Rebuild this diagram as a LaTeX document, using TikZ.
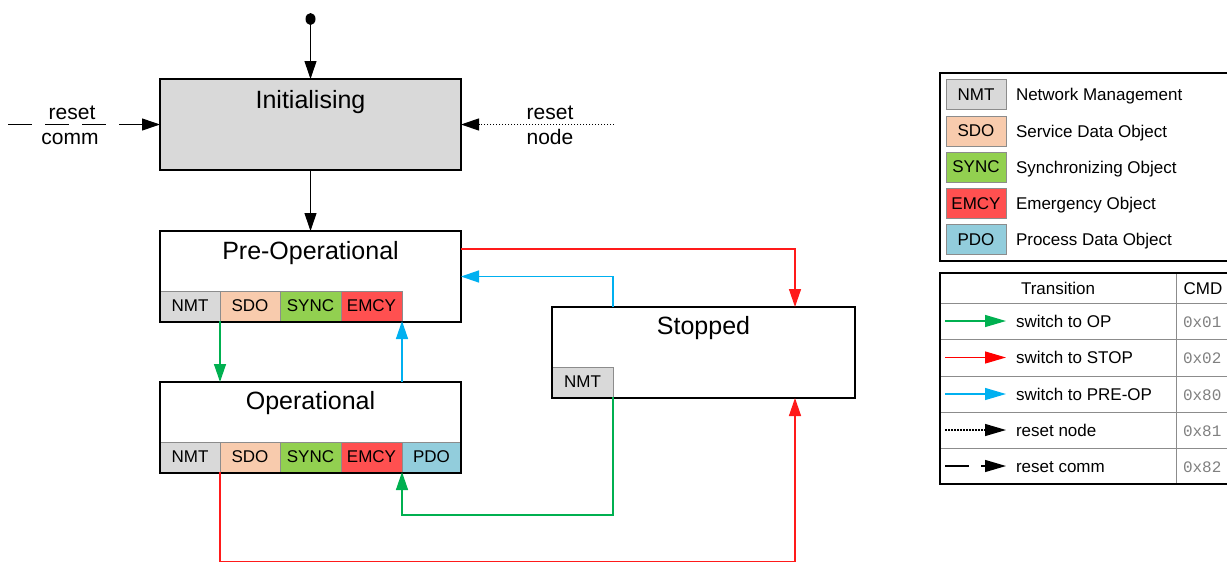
\documentclass[tikz,border=0pt]{standalone}
\usepackage{fontspec}
\setmainfont{Liberation Sans}
\setmonofont{Liberation Mono}
\usetikzlibrary{arrows.meta,calc,shapes.geometric}
\definecolor{nmtc}{HTML}{D9D9D9}
\definecolor{sdoc}{HTML}{F8CBAD}
\definecolor{syncc}{HTML}{92D050}
\definecolor{emcyc}{HTML}{FF5050}
\definecolor{pdoc}{HTML}{92CDDC}
\definecolor{agreen}{HTML}{00B050}
\definecolor{ared}{HTML}{FF1A1A}
\definecolor{ablue}{HTML}{00B0F0}
\definecolor{cmdgray}{HTML}{808080}
\begin{document}
\begin{tikzpicture}[x=1pt,y=-1pt,
  every node/.style={inner sep=0pt, outer sep=0pt},
  state/.style={draw=black, line width=2.5pt, minimum width=301pt, minimum height=91pt, anchor=north west},
  titletext/.style={font=\fontsize{25}{30}\selectfont, anchor=base},
  cell/.style={draw=black!45, line width=0.8pt, minimum height=30pt, anchor=north west, font=\fontsize{17}{20}\selectfont},
  lcell/.style={draw=black!45, line width=0.8pt, minimum height=30pt, minimum width=60pt, anchor=center, font=\fontsize{17}{20}\selectfont},
  lbltext/.style={font=\fontsize{21}{24}\selectfont, anchor=base},
  legtext/.style={font=\fontsize{17}{20}\selectfont, anchor=base west},
  cmdtext/.style={font=\fontsize{16}{20}\ttfamily, text=cmdgray, anchor=base west},
  arrowhd/.style={-{Triangle[length=18pt,width=12pt]}},
  blk/.style={arrowhd, draw=black, line width=1pt},
  dotline/.style={dash pattern=on 1.5pt off 1.5pt, line width=1.2pt},
  gconn/.style={arrowhd, draw=agreen, line width=1.4pt},
  rconn/.style={arrowhd, draw=ared, line width=1.4pt},
  bconn/.style={arrowhd, draw=ablue, line width=1.4pt},
  legarrow/.style={-{Triangle[length=21pt,width=12pt]}, line width=1.3pt},
  rowline/.style={draw=black!45, line width=0.8pt}
]
\path[use as bounding box] (0,0) rectangle (1227,563);
\clip (0,0) rectangle (1227,563);

% ---- cells ----
\node[cell, fill=nmtc,  minimum width=60pt] (pnmt)  at (160,291) {NMT};
\node[cell, fill=sdoc,  minimum width=60pt] (psdo)  at (220,291) {SDO};
\node[cell, fill=syncc, minimum width=61pt] (psync) at (280,291) {SYNC};
\node[cell, fill=emcyc, minimum width=61pt] (pemcy) at (341,291) {EMCY};

\node[cell, fill=nmtc,  minimum width=60pt] (onmt)  at (160,442) {NMT};
\node[cell, fill=sdoc,  minimum width=60pt] (osdo)  at (220,442) {SDO};
\node[cell, fill=syncc, minimum width=61pt] (osync) at (280,442) {SYNC};
\node[cell, fill=emcyc, minimum width=61pt] (oemcy) at (341,442) {EMCY};
\node[cell, fill=pdoc,  minimum width=59pt] (opdo)  at (402,442) {PDO};

\node[cell, fill=nmtc,  minimum width=61pt] (snmt)  at (552,367) {NMT};

% ---- state boxes ----
\node[state, fill=nmtc] (init) at (160,79) {};
\node[state] (preop) at (160,231) {};
\node[state] (op) at (160,382) {};
\node[state, minimum width=303pt] (stopped) at (552,307) {};

\node[titletext] (tinit) at ($(init.north)+(0,29)$) {Initialising};
\node[titletext] (tpreop) at ($(preop.north)+(0,28)$) {Pre-Operational};
\node[titletext] (top) at ($(op.north)+(0,27)$) {Operational};
\node[titletext] (tstop) at ($(stopped.north)+(0,27)$) {Stopped};

% ---- start ----
\node[ellipse, fill=black, minimum width=10pt, minimum height=12pt] (start) at (310.5,19) {};
\draw[blk] (start) -- (init.north);
\draw[blk] (init.south) -- (preop.north);

% ---- transitions ----
\draw[gconn] (psdo.south west) -- (psdo.south west |- op.north);
\draw[bconn] (pemcy.south east |- op.north) -- (pemcy.south east);
\draw[rconn] ($(preop.north east)+(0,18)$) -| ($(stopped.north west)+(243,0)$);
\draw[bconn] (snmt.east |- stopped.north) |- (preop.east);
\draw[gconn] (snmt.south east) -- ++(0,118) -| (oemcy.south east);
\draw[rconn] (osdo.south west) -- ++(0,89.5) -| ($(stopped.south west)+(243,0)$);

% ---- resets ----
\coordinate (rc) at (8,124.5);
\draw[blk, dash pattern=on 24pt off 13pt] (rc) -- (init.west);
\node[lbltext] (rcl1) at (72,119) {reset};
\node[lbltext] (rcl2) at (70,144) {comm};
\coordinate (rn) at (614,124.5);
\draw[blk, dotline] (rn) -- (init.east);
\node[lbltext] (rnl1) at (550,119) {reset};
\node[lbltext] (rnl2) at (550,144) {node};

% ---- legend 1 ----
\draw[line width=1.8pt] (940,73) rectangle (1240,261);
\node[lcell, fill=nmtc]  (lnmt)  at (976,94.5) {NMT};
\node[lcell, fill=sdoc]  (lsdo)  at (976,131) {SDO};
\node[lcell, fill=syncc] (lsync) at (976,167) {SYNC};
\node[lcell, fill=emcyc] (lemcy) at (976,203.5) {EMCY};
\node[lcell, fill=pdoc]  (lpdo)  at (976,239.5) {PDO};
\node[legtext] at (1016,100.5) {Network Management};
\node[legtext] at (1016,137) {Service Data Object};
\node[legtext] at (1016,173) {Synchronizing Object};
\node[legtext] at (1016,209.5) {Emergency Object};
\node[legtext] at (1016,245.5) {Process Data Object};

% ---- legend 2 ----
\draw[rowline] (940,303) -- (1240,303);
\draw[rowline] (940,339) -- (1240,339);
\draw[rowline] (940,376) -- (1240,376);
\draw[rowline] (940,412) -- (1240,412);
\draw[rowline] (940,448) -- (1240,448);
\draw[rowline] (1176,273) -- (1176,484);
\draw[line width=1.8pt] (940,273) rectangle (1240,484);
\node[font=\fontsize{17}{20}\selectfont, anchor=base] at (1058,294) {Transition};
\node[font=\fontsize{17}{20}\selectfont, anchor=base] at (1203,294) {CMD};

\coordinate (a1s) at (945,321); \coordinate (a1e) at (1006,321);
\coordinate (a2s) at (945,357.5); \coordinate (a2e) at (1006,357.5);
\coordinate (a3s) at (945,394); \coordinate (a3e) at (1006,394);
\coordinate (a4s) at (945,430); \coordinate (a4e) at (1006,430);
\coordinate (a5s) at (945,466); \coordinate (a5e) at (1006,466);
\draw[legarrow, draw=agreen, fill=agreen] (a1s) -- (a1e);
\draw[legarrow, draw=red, fill=red] (a2s) -- (a2e);
\draw[legarrow, draw=ablue, fill=ablue] (a3s) -- (a3e);
\draw[legarrow, dotline] (a4s) -- (a4e);
\draw[legarrow, dash pattern=on 24pt off 12pt] (a5s) -- (a5e);

\node[legtext] at (1016,327) {switch to OP};
\node[legtext] at (1016,363.5) {switch to STOP};
\node[legtext] at (1016,400) {switch to PRE-OP};
\node[legtext] at (1016,436) {reset node};
\node[legtext] at (1016,472) {reset comm};

\node[cmdtext] at (1183,327) {0x01};
\node[cmdtext] at (1183,363.5) {0x02};
\node[cmdtext] at (1183,400) {0x80};
\node[cmdtext] at (1183,436) {0x81};
\node[cmdtext] at (1183,472) {0x82};
\end{tikzpicture}
\end{document}
